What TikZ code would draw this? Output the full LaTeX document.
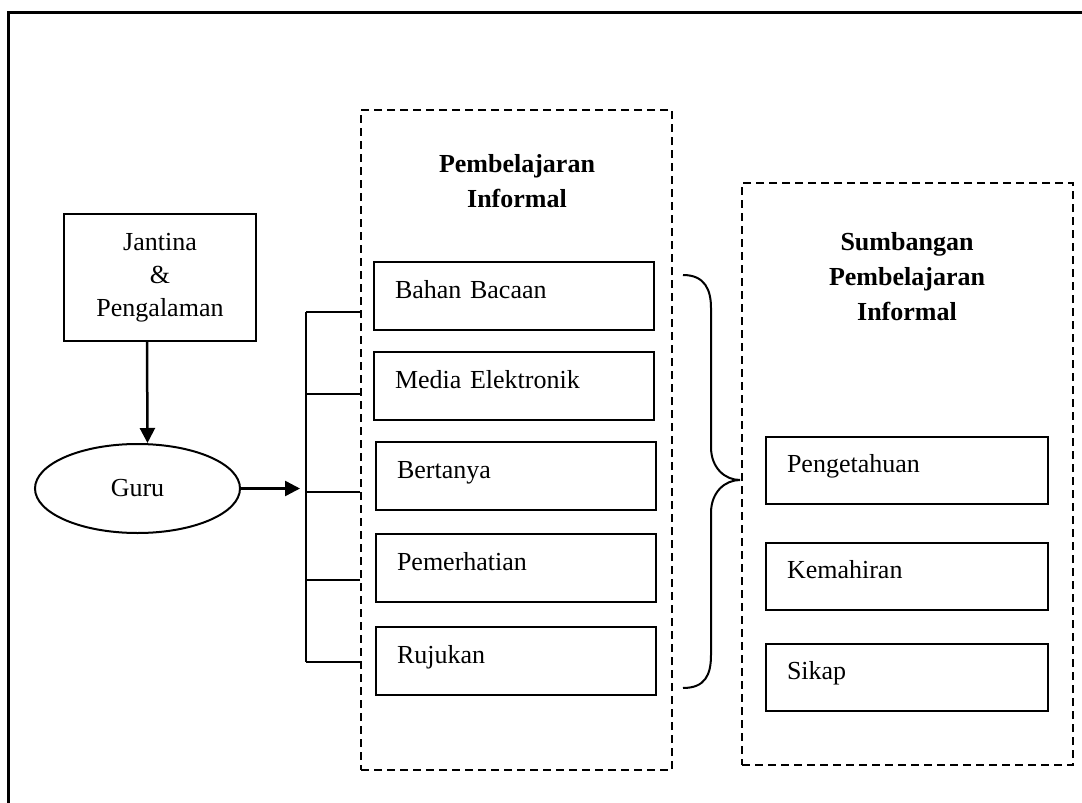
\documentclass[tikz,border=0pt]{standalone}
\usepackage{fontspec}
\setmainfont{Liberation Serif}
\usetikzlibrary{arrows.meta,shapes.geometric}
\begin{document}
\begin{tikzpicture}[x=1pt,y=-1pt,
  every node/.style={font=\fontsize{26}{33}\selectfont},
  solidbox/.style={draw, line width=2pt, rectangle},
  itembox/.style={solidbox, minimum height=68pt, inner ysep=0pt, inner xsep=21pt, text width=238pt, align=left, text height=18pt, text depth=14pt},
  ritembox/.style={itembox, minimum height=67pt, text width=240pt},
  groupbox/.style={draw, line width=2pt, dash pattern=on 8pt off 5pt, rectangle, inner sep=0pt},
  heading/.style={font=\fontsize{26}{35}\selectfont\bfseries, align=center},
  conn/.style={line width=2pt},
  arr/.style={line width=2.5pt, -{Triangle[length=15pt,width=15pt]}}
]
\useasboundingbox (0,0) rectangle (1082,803);
\draw[line width=3pt] (8,803) -- (8,12) -- (1082,12);

% left inputs
\node[solidbox, minimum width=192pt, minimum height=127pt, inner sep=0pt, align=center] (jantina) at (160,277.5) {Jantina\\\&\\Pengalaman};
\node[draw, ellipse, line width=2pt, minimum width=205pt, minimum height=89pt, inner sep=0pt] (guru) at (137.5,488.5) {Guru};

% group 1
\node[groupbox, minimum width=311pt, minimum height=660pt] (pi) at (516.5,440) {};
\node[heading] (pititle) at (517,181) {Pembelajaran\\Informal};
\node[itembox] (bahan) at (514,296) {Bahan Bacaan};
\node[itembox] (media) at (514,386) {Media Elektronik};
\node[itembox] (bertanya) at (516,476) {Bertanya};
\node[itembox] (pemer) at (516,568) {Pemerhatian};
\node[itembox] (rujukan) at (516,661) {Rujukan};

% group 2
\node[groupbox, minimum width=331pt, minimum height=582pt] (spi) at (907.5,474) {};
\node[heading] (spititle) at (907,277) {Sumbangan\\Pembelajaran\\Informal};
\node[ritembox] (penget) at (907,470.5) {Pengetahuan};
\node[ritembox] (kemah) at (907,576.5) {Kemahiran};
\node[ritembox] (sikap) at (907,677.5) {Sikap};

% connectors
\coordinate (b1) at (306,312);
\coordinate (b2) at (306,394);
\coordinate (b3) at (306,492);
\coordinate (b4) at (306,580);
\coordinate (b5) at (306,662);
\draw[arr] ([xshift=-13pt]jantina.south) -- ([xshift=10pt]guru.north);
\draw[arr] (guru.east) -- ([xshift=-6pt]b3 |- guru.east);
\draw[conn] (b1) -- (b5);
\foreach \i in {1,...,5} \draw[conn] (b\i) -- (b\i -| pi.west);

% brace
\draw[conn] (683,275) .. controls (705,275) and (711,290) .. (711,308) -- (711,447)
  .. controls (711,468) and (725,480) .. (740,480)
  .. controls (725,480) and (711,492) .. (711,513) -- (711,655)
  .. controls (711,675) and (705,688) .. (683,688);
\end{tikzpicture}
\end{document}
